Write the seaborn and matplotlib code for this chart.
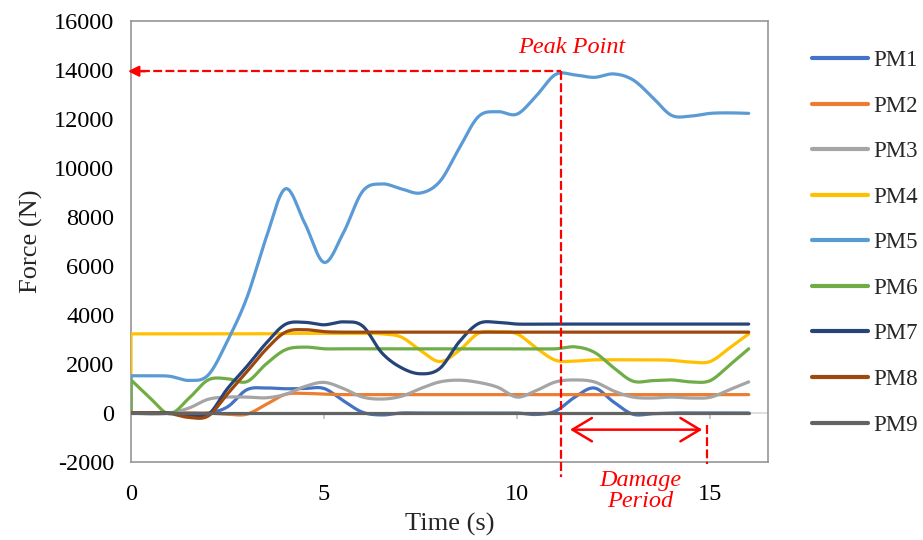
import numpy as np
import pandas as pd
import matplotlib
matplotlib.use("Agg")
import matplotlib.pyplot as plt
import seaborn as sns

# ---------------- data ----------------
time_s = [0, 0, 0.5, 1, 1.5, 2, 2.5, 3, 3.5, 4, 4.5, 5, 5.5, 6, 6.5, 7, 7.5, 8,
          8.5, 9, 9.5, 10, 10.5, 11, 11.5, 12, 12.5, 13, 13.5, 14, 14.5, 15, 15.5, 16]

series_names = ["PM1", "PM2", "PM3", "PM4", "PM5", "PM6", "PM7", "PM8", "PM9"]
series_colors = ["#4472C4", "#ED7D31", "#A5A5A5", "#FFC000", "#5B9BD5",
                 "#70AD47", "#264478", "#9E480E", "#636363"]

pm1 = [0, 0, 0, 0, 0, 0, 250, 950, 1020, 990, 1000, 1000, 500, 30, -80, 0, 0, 0,
       0, 0, 0, 0, -60, 80, 650, 1020, 450, -50, -30, 0, 0, 0, 0, 0]
pm2 = [0, 0, 0, 0, 0, 0, -50, -50, 350, 760, 800, 770] + [750] * 22
pm3 = [0, 0, -40, 0, 200, 560, 650, 650, 620, 760, 1080, 1250, 1000, 650, 570, 680,
       1000, 1270, 1340, 1250, 1050, 650, 920, 1270, 1350, 1270, 900, 650, 610, 650,
       610, 640, 950, 1270]
pm4 = [0, 3230, 3230, 3230, 3230, 3230, 3230, 3230, 3230, 3250, 3250, 3250, 3250,
       3250, 3230, 3100, 2550, 2100, 2550, 3250, 3310, 3230, 2650, 2150, 2120, 2170,
       2170, 2170, 2170, 2150, 2080, 2100, 2650, 3230]
pm5 = [0, 1520, 1520, 1500, 1330, 1550, 2950, 4700, 7150, 9150, 7750, 6150, 7350,
       9050, 9350, 9150, 8980, 9450, 10800, 12100, 12300, 12200, 12950, 13820, 13800,
       13700, 13840, 13600, 12900, 12150, 12120, 12230, 12250, 12230]
pm6 = [0, 1350, 600, -30, 600, 1350, 1400, 1280, 2000, 2580, 2690, 2620, 2620, 2620,
       2620, 2620, 2620, 2620, 2620, 2620, 2620, 2620, 2620, 2620, 2700, 2480, 1850,
       1300, 1320, 1350, 1270, 1320, 1950, 2620]
pm7 = [0, 0, 0, 0, -80, -60, 1000, 1900, 2850, 3620, 3700, 3600, 3720, 3550, 2450,
       1850, 1600, 1820, 2900, 3650, 3700, 3630] + [3630] * 12
pm8 = [0, 0, 0, -20, -180, -120, 780, 1680, 2600, 3300, 3400, 3320] + [3300] * 22
pm9 = [0] * 34

x_ticks = [0, 5, 10, 15]
y_ticks = list(range(-2000, 16001, 2000))

peak_time = 11.15
peak_force = 13950
damage_start = 11.3
damage_end = 14.92
damage_level = -680

all_series = [pm1, pm2, pm3, pm4, pm5, pm6, pm7, pm8, pm9]


def bezier_through(P, n=24):
    Pm = np.vstack([P[0], P, P[-1]])
    s = np.linspace(0, 1, n, endpoint=False)[:, None]
    out = []
    for i in range(len(P) - 1):
        p0, p1, p2, p3 = Pm[i], Pm[i + 1], Pm[i + 2], Pm[i + 3]
        c1 = p1 + (p2 - p0) / 6.0
        c2 = p2 - (p3 - p1) / 6.0
        b = ((1 - s) ** 3) * p1 + 3 * ((1 - s) ** 2) * s * c1 \
            + 3 * (1 - s) * s ** 2 * c2 + s ** 3 * p2
        out.append(b)
    out.append(P[-1][None, :])
    return np.vstack(out)


def excel_smooth(x, y):
    """Smoothed line through the points (Excel style); a jump at t=0 stays straight."""
    P = np.column_stack([x, y]).astype(float)
    keep = np.r_[True, np.any(np.diff(P, axis=0) != 0, axis=1)]
    P = P[keep]
    if len(P) > 2 and P[0, 0] == P[1, 0]:
        return np.vstack([P[:1], bezier_through(P[1:])])
    return bezier_through(P)


frames = []
for name, vals in zip(series_names, all_series):
    pts = excel_smooth(time_s, vals)
    frames.append(pd.DataFrame({"t": pts[:, 0], "force": pts[:, 1], "series": name}))
df = pd.concat(frames, ignore_index=True)

# ---------------- styling ----------------
sns.set_theme(style="white")
plt.rcParams["font.family"] = ["Liberation Serif", "DejaVu Serif"]
plt.rcParams["axes.unicode_minus"] = False

fig = plt.figure(figsize=(9.23, 5.40), dpi=100)
ax = fig.add_axes([131 / 923, 1 - 462 / 540, (768 - 131) / 923, (462 - 21) / 540])

# zero (category) axis line and its tick marks
ax.axhline(0, color="#D9D9D9", lw=1.2, zorder=1)
ax.vlines(x_ticks[1:], -250, 0, color="#BFBFBF", lw=1.2, zorder=1)

sns.lineplot(data=df, x="t", y="force", hue="series", hue_order=series_names,
             palette=series_colors, sort=False, estimator=None, linewidth=2.3,
             ax=ax, legend=True, zorder=3)

ax.set_xlim(0, 16.5)
ax.set_ylim(-2000, 16000)
ax.set_xticks(x_ticks)
ax.set_yticks(y_ticks)
ax.tick_params(axis="both", length=0, labelsize=17.5, colors="black")
ax.tick_params(axis="x", pad=15.5)
ax.tick_params(axis="y", pad=12)
ax.set_xlabel("Time (s)", fontsize=19, labelpad=6)
ax.set_ylabel("Force (N)", fontsize=19, labelpad=8)
ax.grid(False)
for sp in ax.spines.values():
    sp.set_color("#969696")
    sp.set_linewidth(1.2)

# legend at the right
handles, labels = ax.get_legend_handles_labels()
ax.get_legend().remove()
leg = fig.legend(handles, labels, loc="upper left",
                 bbox_to_anchor=(812 / 923, 1 - 50 / 540), frameon=False,
                 fontsize=16.5, handlelength=2.45, handletextpad=0.22,
                 labelspacing=1.07, borderpad=0, borderaxespad=0)
for h in leg.get_lines():
    h.set_linewidth(3)

# ---------------- annotations ----------------
red = "#FF0000"
dash = (0, (4, 1.5))
ax.hlines(peak_force, 0.25, peak_time, colors=red, linestyles=dash, lw=1.6, zorder=5)
ax.annotate("", xy=(-0.15, peak_force), xytext=(0.45, peak_force),
            arrowprops=dict(arrowstyle="-|>", color=red, lw=1.6, mutation_scale=16),
            annotation_clip=False, zorder=5)
ax.plot([peak_time, peak_time], [peak_force, -2600], color=red, ls=dash, lw=1.6,
        clip_on=False, zorder=5)
ax.plot([damage_end, damage_end], [-500, -2100], color=red, ls=dash, lw=1.6,
        clip_on=False, zorder=5)
ax.annotate("", xy=(damage_start, damage_level), xytext=(damage_end - 0.05, damage_level),
            arrowprops=dict(arrowstyle="<->, head_length=0.5, head_width=0.3",
                            color=red, lw=1.8, mutation_scale=28),
            annotation_clip=False, zorder=5)
ax.text(11.42, 14930, "Peak Point", color=red, fontsize=17.5, style="italic",
        ha="center", va="center", zorder=6)
ax.text(13.19, -3180, "Damage\nPeriod", color=red, fontsize=17.5, style="italic",
        ha="center", va="center", linespacing=0.95, clip_on=False, zorder=6)

fig.savefig("out.png", dpi=100)
